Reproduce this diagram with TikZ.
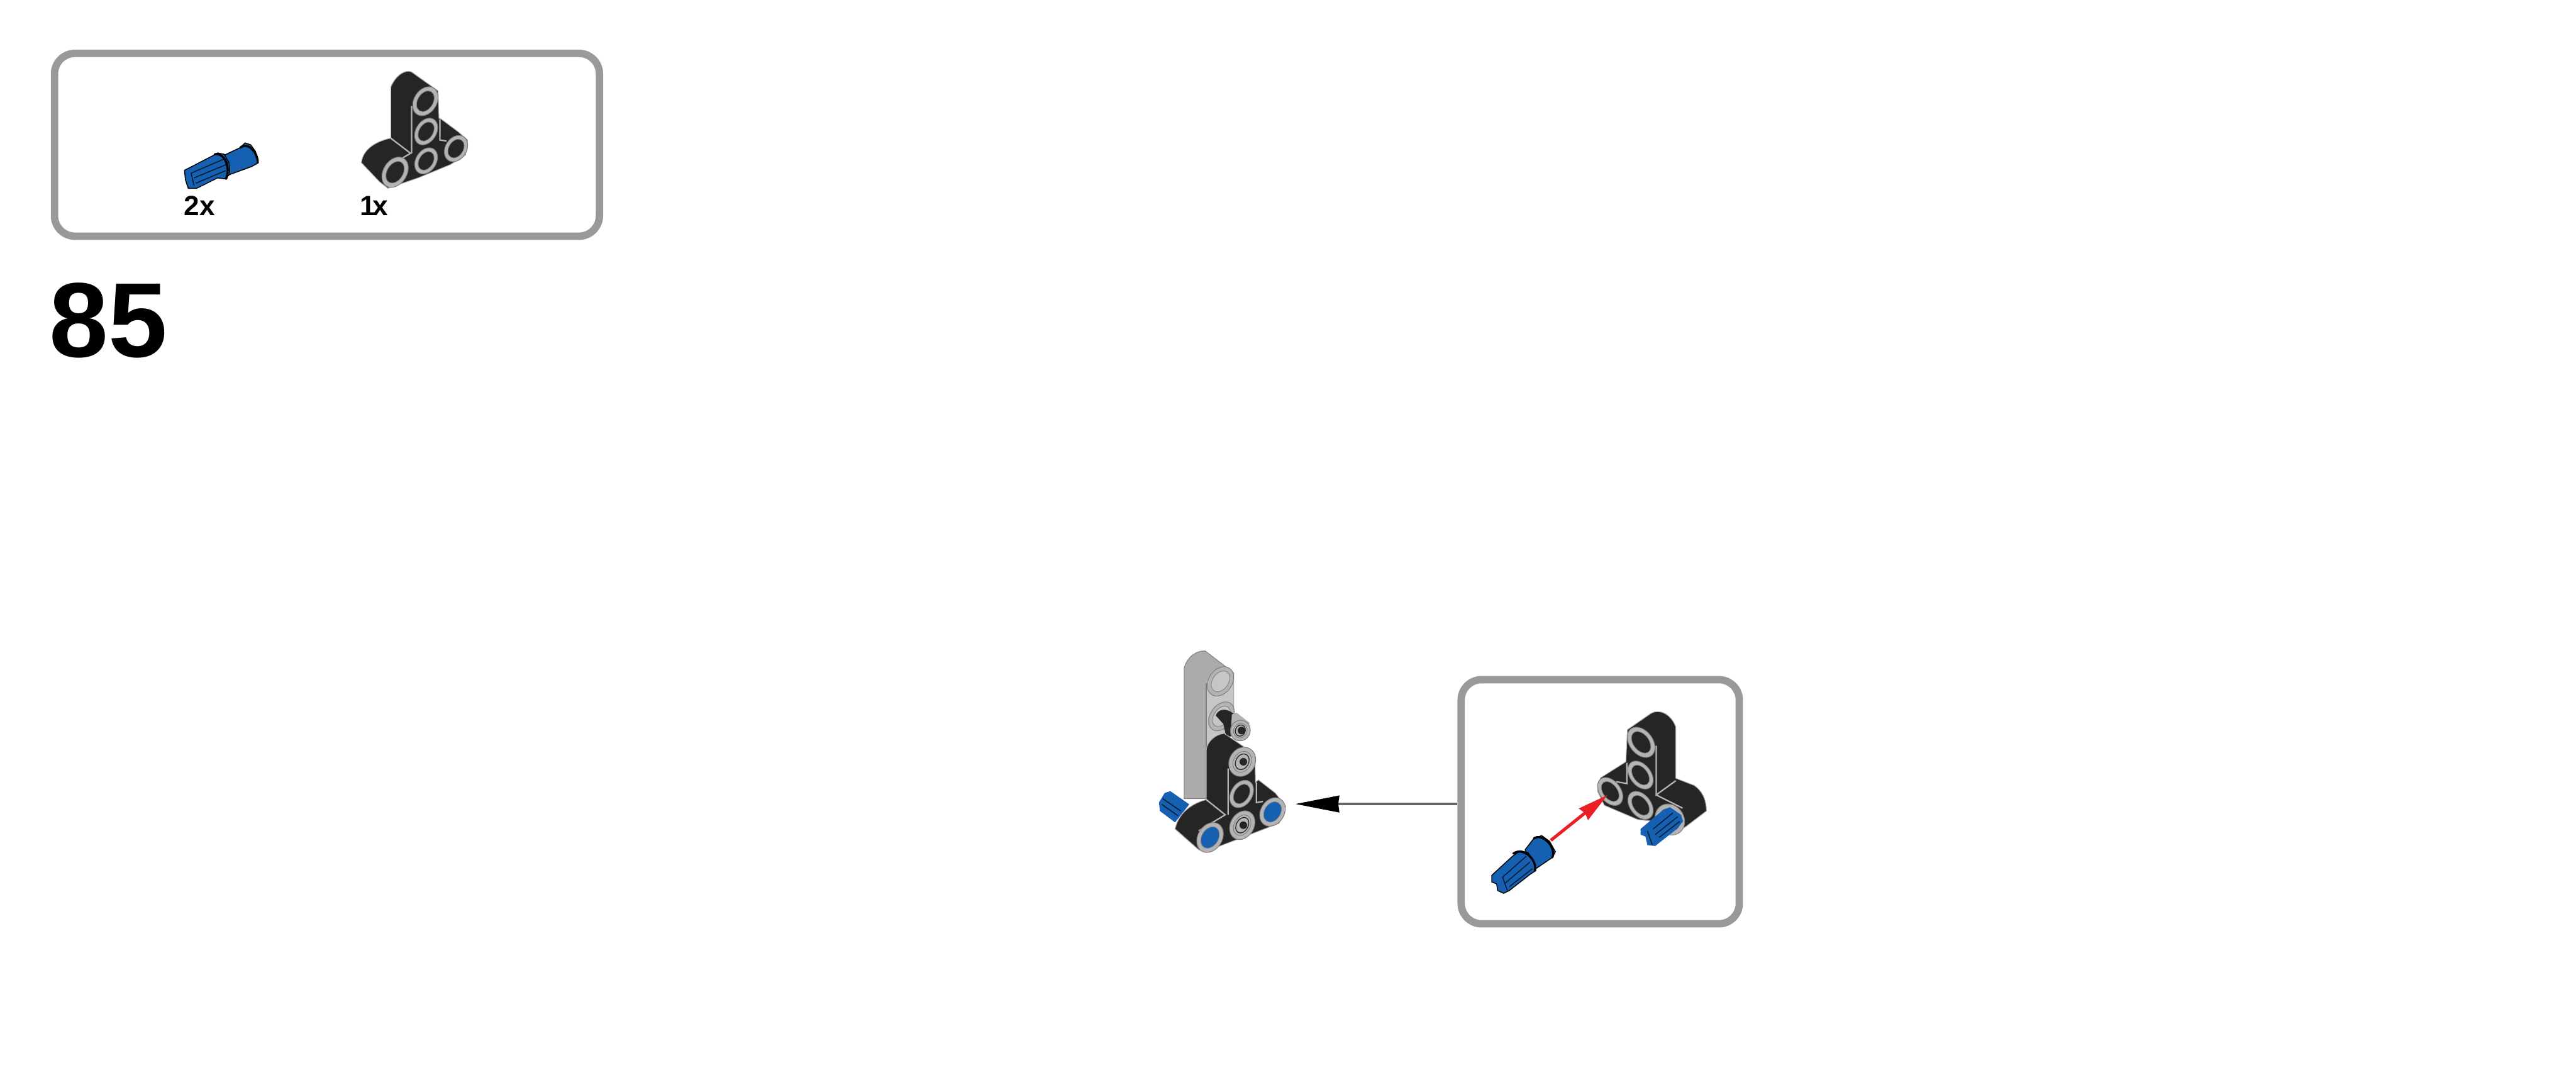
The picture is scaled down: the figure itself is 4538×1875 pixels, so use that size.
\documentclass[tikz,border=0pt]{standalone}
\usepackage{fontspec}
\setmainfont{Liberation Sans}
\usetikzlibrary{arrows.meta}
\definecolor{frame}{HTML}{999999}
\definecolor{partblack}{HTML}{252525}
\definecolor{ringgray}{HTML}{B4B4B4}
\definecolor{ringedge}{HTML}{7F7F7F}
\definecolor{pinblue}{HTML}{1560B0}
\definecolor{beamside}{HTML}{ABABAB}
\definecolor{beamface}{HTML}{C6C6C6}
\definecolor{redarrow}{HTML}{EC2024}
\definecolor{leader}{HTML}{666666}
\tikzset{
  panel/.style={draw=frame,line width=1.3pt,rounded corners=3.6pt,fill=white,inner sep=0pt},
  qty/.style={font=\bfseries\fontsize{4.9}{5}\selectfont,inner sep=0pt,anchor=south west},
  stepnum/.style={font=\bfseries\fontsize{18.7}{20}\selectfont,inner sep=0pt,anchor=base west},
  blackpart/.style={fill=partblack,draw=ringgray,line width=.12pt,line join=round},
  seam/.style={draw=ringgray,line width=.25pt},
  pinbody/.style={fill=pinblue,draw=black,line width=.16pt,line join=round},
  rib/.style={draw=black!75!pinblue,line width=.16pt},
  collar/.style={draw=black,line width=.38pt,line cap=round},
}
% centre x,y ; rx ; ry ; rotation ; inner colour
\newcommand{\beamring}[6]{%
  \fill[ringgray,draw=ringedge,line width=.12pt] (#1,#2) ellipse [x radius=#3,y radius=#4,rotate=#5];
  \fill[#6,draw=ringedge,line width=.1pt] (#1,#2) ellipse [x radius=.68*#3,y radius=.72*#4,rotate=#5];
}
% ring with a pin end seated in it: centre x,y ; rx ; ry ; rotation
\newcommand{\pinring}[5]{%
  \beamring{#1}{#2}{#3}{#4}{#5}{ringgray}
  \draw[partblack,line width=.14pt] (#1,#2) ellipse [x radius=.5*#3,y radius=.55*#4,rotate=#5];
  \fill[partblack] (#1+6,#2) circle (20);
}
\begin{document}
\begin{tikzpicture}[x=.1pt,y=-.1pt]
\useasboundingbox (0,0) rectangle (4538,1875);
\fill[white] (0,0) rectangle (4538,1875);

% parts list panel
\node[panel,minimum width=96pt,minimum height=32.2pt] (listbox) at (576,255) {};
\node[qty] (qtytwo) at (322,381) {2x};
\node[qty] (qtyone) at (632,381) {1\kern-.09em x};
\node[stepnum] (stepno) at (85,629) {85};

% parts list: pin
\begin{scope}[shift={(300,230)},scale=1/3]
  \path[pinbody] (285,130)--(370,90)--(395,65)--(425,75)--(450,110)--(465,170)--(430,190)--(315,232)--cycle;
  \path[pinbody] (75,210)--(230,130)--(250,118)--(285,125)--(310,170)--(315,230)--(290,255)--(250,250)--(140,305)--(95,305)--(80,260)--cycle;
  \draw[rib] (110,225)--(285,150) (125,250)--(295,180) (135,278)--(292,212) (110,225)--(125,290);
  \draw[collar] (235,125) .. controls (285,115) and (320,190) .. (295,255);
  \draw[collar] (370,90) .. controls (410,55) and (465,120) .. (462,170);
\end{scope}

% parts list: T-beam
\begin{scope}[shift={(600,110)},scale=1/3]
  \path[blackpart] (265,400)--(265,130) .. controls (290,70) and (340,35) .. (375,50)--(515,150)--(520,295)--(530,298)--(620,365)--(672,410)--(660,490)--(580,540)--(410,610)--(250,665)--(205,630)--(110,530) .. controls (115,470) and (170,420) .. (265,400)--cycle;
  \draw[seam] (265,400)--(370,480)--(275,535) (375,230)--(375,480) (525,300)--(525,410)--(560,415);
  \beamring{448}{205}{60}{82}{-32}{partblack}
  \beamring{452}{365}{54}{76}{-32}{partblack}
  \beamring{452}{520}{54}{74}{-32}{partblack}
  \beamring{610}{455}{56}{74}{-32}{partblack}
  \beamring{288}{580}{62}{86}{-32}{partblack}
\end{scope}

% main assembly
\begin{scope}[shift={(1980,1120)},scale=1/3]
  % blue stub behind
  \path[pinbody,draw=none] (185,880)--(215,830)--(245,820)--(345,890)--(270,985)--(190,925)--cycle;
  \draw[rib] (205,860)--(300,925) (200,890)--(285,950);
  % grey beam
  \path[fill=beamside,draw=ringedge,line width=.12pt] (318,860)--(318,170) .. controls (335,110) and (385,75) .. (430,80)--(580,195)--(580,520)--(435,600)--(435,860)--cycle;
  \path[fill=beamface] (435,250) .. controls (450,190) and (520,150) .. (580,205)--(580,500)--(435,590)--cycle;
  \draw[ringedge,line width=.2pt] (435,250)--(435,860);
  \beamring{510}{240}{62}{84}{-35}{beamface}
  \beamring{515}{425}{58}{84}{-35}{beamface}
  % black stub
  \path[fill=partblack] (485,420) .. controls (500,385) and (540,375) .. (590,420)--(600,530)--(540,530)--(525,465)--cycle;
  \path[fill=ringgray] (570,415)--(595,405)--(665,460)--(610,550)--(565,520)--cycle;
  \pinring{615}{500}{52}{55}{-25}
  % black T
  \path[blackpart] (435,600)--(435,865) .. controls (340,890) and (285,950) .. (270,1020)--(395,1130)--(430,1140)--(820,990)--(855,900)--(800,830)--(710,760)--(695,775)--(692,625)--(530,515) .. controls (480,520) and (440,560) .. (435,600)--cycle;
  \draw[seam] (435,865)--(535,945)--(395,1030) (550,700)--(550,945) (700,775)--(700,880)--(735,875);
  \pinring{625}{665}{68}{80}{-30}
  \beamring{622}{835}{56}{78}{-32}{partblack}
  \pinring{625}{1000}{62}{80}{-30}
  \beamring{785}{930}{62}{80}{-32}{pinblue}
  \beamring{455}{1065}{64}{84}{-32}{pinblue}
\end{scope}
\coordinate (asmtip) at (2282,1416);

% exploded view panel
\node[panel,minimum width=49pt,minimum height=43pt] (inset) at (2819,1412) {};
\begin{scope}[shift={(2540,1180)},xscale=1/2.9,yscale=1/3]
  % T-beam
  \path[blackpart] (948,315)--(1070,228) .. controls (1110,205) and (1170,230) .. (1195,300)--(1195,572)--(1290,610) .. controls (1330,640) and (1350,680) .. (1352,745)--(1250,825)--(1200,860)--(1090,800)--(1000,790)--(830,715)--(795,640)--(810,570)--(940,485)--cycle;
  \draw[seam] (1095,400)--(1095,660)--(1195,585) (1095,660)--(1230,730) (945,490)--(945,600)--(890,590);
  \beamring{1018}{382}{60}{88}{35}{partblack}
  \beamring{1015}{555}{54}{82}{35}{partblack}
  \beamring{1015}{715}{54}{82}{35}{partblack}
  \beamring{860}{642}{54}{82}{35}{partblack}
  \beamring{1165}{790}{72}{85}{30}{pinblue}
  % installed pin
  \path[pinbody,draw=none] (1015,840)--(1130,740)--(1165,725)--(1222,765)--(1232,800)--(1200,840)--(1090,930)--(1050,925)--(1040,880)--(1015,870)--cycle;
  \draw[rib] (1080,840)--(1180,755) (1090,870)--(1205,775) (1110,885)--(1215,800) (1050,850)--(1075,925);
  % loose pin
  \path[pinbody] (425,950)--(470,890)--(510,875)--(550,905)--(580,960)--(565,990)--(480,1050)--cycle;
  \path[pinbody] (255,1085)--(360,985)--(400,955)--(440,965)--(470,1010)--(480,1060)--(450,1080)--(345,1165)--(315,1180)--(285,1165)--(280,1130)--(255,1120)--cycle;
  \draw[rib] (310,1095)--(430,985) (325,1125)--(450,1015) (345,1145)--(462,1050) (310,1095)--(335,1165);
  \draw[collar] (365,970) .. controls (420,930) and (490,1010) .. (475,1060);
  \draw[collar] (470,890) .. controls (510,860) and (585,930) .. (565,990);
\end{scope}
\coordinate (redstart) at (2732,1480);
\coordinate (redtip) at (2832,1400);

% connectors
\draw[-{Stealth[length=7.7pt,width=2.9pt,inset=.15pt,color=black]},draw=leader,line width=.45pt] (inset.west |- asmtip) -- (asmtip);
\draw[-{Stealth[length=5.4pt,width=2.5pt,inset=.3pt]},draw=redarrow,line width=.55pt] (redstart) -- (redtip);
\end{tikzpicture}
\end{document}
